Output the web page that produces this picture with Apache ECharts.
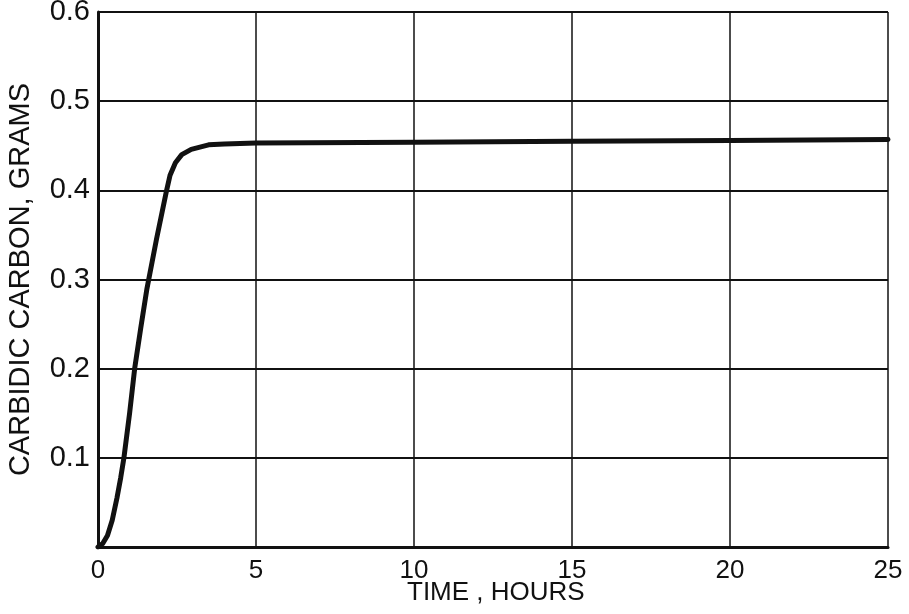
<!DOCTYPE html>
<html>
<head>
<meta charset="utf-8">
<script src="https://cdn.jsdelivr.net/npm/echarts@6/dist/echarts.min.js"></script>
<style>
  html, body { margin: 0; padding: 0; background: #fff; }
  #chart { width: 909px; height: 614px; }
</style>
</head>
<body>
<div id="chart"></div>
<script>
// time in hours, carbidic carbon in grams
const hours = [0, 0.15, 0.3, 0.45, 0.6, 0.72, 0.82, 1.0, 1.16, 1.35, 1.55, 1.85, 2.16, 2.28, 2.45, 2.65, 2.95, 3.5, 4.0, 5, 10, 15, 20, 25];
const carbon = [0, 0.004, 0.013, 0.03, 0.055, 0.078, 0.1, 0.15, 0.2, 0.245, 0.29, 0.345, 0.398, 0.417, 0.431, 0.44, 0.446, 0.451, 0.452, 0.453, 0.454, 0.455, 0.456, 0.457];
const xTicks = [0, 5, 10, 15, 20, 25];
const yTicks = [0, 0.1, 0.2, 0.3, 0.4, 0.5, 0.6];

const ink = '#111';
const font = 'Liberation Sans, DejaVu Sans, sans-serif';

const chart = echarts.init(document.getElementById('chart'));
chart.setOption({
    backgroundColor: '#fff',
    animation: false,
    grid: { left: 98, right: 21, top: 12, bottom: 67, outerBoundsMode: 'none' },
    xAxis: {
        type: 'value',
        min: xTicks[0],
        max: xTicks[xTicks.length - 1],
        interval: 5,
        axisLine: { show: true, onZero: false, lineStyle: { color: ink, width: 3 } },
        axisTick: { show: false },
        axisLabel: { color: ink, fontSize: 26, fontFamily: font, margin: 11 },
        splitLine: { show: true, lineStyle: { color: ink, width: 1.5 } }
    },
    yAxis: {
        type: 'value',
        min: yTicks[0],
        max: yTicks[yTicks.length - 1],
        interval: 0.1,
        name: 'CARBIDIC CARBON, GRAMS',
        nameLocation: 'middle',
        nameGap: 63,
        nameTextStyle: { color: ink, fontSize: 29, fontFamily: font },
        axisLine: { show: true, onZero: false, lineStyle: { color: ink, width: 3 } },
        axisTick: { show: false },
        axisLabel: {
            color: ink, fontSize: 29, fontFamily: font, margin: 8,
            formatter: function (v) { return v === 0 ? '' : v.toFixed(1); }
        },
        splitLine: { show: true, lineStyle: { color: ink, width: 1.8 } }
    },
    graphic: [{
        type: 'text',
        left: 407,
        top: 580,
        style: { text: 'TIME , HOURS', fill: ink, fontSize: 26, fontFamily: font }
    }],
    series: [{
        type: 'line',
        data: hours.map((h, i) => [h, carbon[i]]),
        smooth: false,
        showSymbol: false,
        lineStyle: { color: ink, width: 5, join: 'round', cap: 'round' }
    }]
});
</script>
</body>
</html>
